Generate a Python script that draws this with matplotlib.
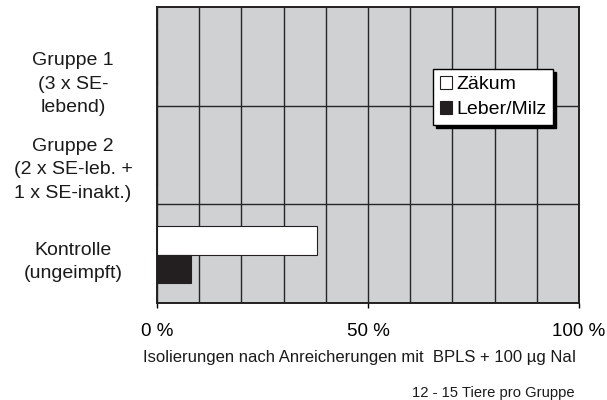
import numpy as np
import matplotlib
matplotlib.use("Agg")
import matplotlib.pyplot as plt
from matplotlib.patches import Patch

plt.rcParams['font.family'] = ['Liberation Sans', 'DejaVu Sans']

# ---- data ----
categories = ["Gruppe 1\n(3 x SE-\nlebend)",
              "Gruppe 2\n(2 x SE-leb. +\n1 x SE-inakt.)",
              "Kontrolle\n(ungeimpft)"]
series_names = ["Zäkum", "Leber/Milz"]
zaekum = [0, 0, 38]
leber_milz = [0, 0, 8]
xtick_values = [0, 50, 100]
xtick_labels = ["0 %", "50 %", "100 %"]
xlabel = "Isolierungen nach Anreicherungen mit  BPLS + 100 µg NaI"
footnote = "12 - 15 Tiere pro Gruppe"

# ---- layout / style ----
W, H, DPI = 607, 400, 100
bg = '#d0d1d3'
dark = '#231f20'
bar_h = 0.29
# baseline of the middle of each label block, px below category centre
label_mid_offset_px = [32.5, 19.5, 12.8]
line_pitch_px = 23.5

fig = plt.figure(figsize=(W / DPI, H / DPI), dpi=DPI)
ax = fig.add_axes([157 / W, 1 - 303 / H, (579 - 157) / W, (303 - 7) / H])
ax.set_facecolor(bg)
ax.set_axisbelow(True)

y = np.arange(len(categories)) + 0.5
pos = y + 0.01
ax.barh(pos - bar_h / 2, zaekum, height=bar_h, color='white',
        edgecolor=dark, linewidth=0.8, label=series_names[0], zorder=3)
ax.barh(pos + bar_h / 2, leber_milz, height=bar_h, color=dark,
        edgecolor=dark, linewidth=0.8, label=series_names[1], zorder=3)

ax.set_xlim(0, 100)
ax.set_ylim(len(categories), 0)

ax.set_xticks(xtick_values)
ax.set_xticklabels(xtick_labels, fontsize=13.5)
ax.set_xticks(np.arange(0, 101, 10), minor=True)
ax.tick_params(axis='x', which='major', direction='out', length=3.6,
               width=1, pad=10.5, colors='black')
ax.tick_params(axis='x', which='minor', length=0)
ax.set_yticks([])
ax.set_yticks(np.arange(1, len(categories)), minor=True)
ax.tick_params(axis='y', which='both', length=0, labelleft=False)
ax.grid(True, which='both', axis='both', color='#262626', linewidth=1.0)

for s in ax.spines.values():
    s.set_color(dark)
    s.set_linewidth(1.4)

# category labels
for lab, yc, off in zip(categories, y, label_mid_offset_px):
    lines = lab.split("\n")
    n = len(lines)
    for j, ln in enumerate(lines):
        dy_px = off + (j - (n - 1) / 2) * line_pitch_px
        ax.annotate(ln, xy=(-0.199, yc), xycoords=('axes fraction', 'data'),
                    xytext=(0, -dy_px * 72 / DPI), textcoords='offset points',
                    ha='center', va='baseline', fontsize=14, color='#1a1a1a',
                    annotation_clip=False)

ax.set_xlabel(xlabel, fontsize=12, color='#1a1a1a')
ax.xaxis.set_label_coords(0.481, -0.159)

handles = [Patch(facecolor='white', edgecolor=dark, linewidth=0.8),
           Patch(facecolor=dark, edgecolor=dark, linewidth=0.8)]
leg = ax.legend(handles, series_names, loc='upper left',
                bbox_to_anchor=(433 / W, 1 - 69 / H),
                bbox_transform=fig.transFigure, borderaxespad=0,
                fontsize=14, handlelength=0.62, handleheight=0.62,
                handletextpad=0.2, labelspacing=0.4, borderpad=0.36,
                fancybox=False, framealpha=1, edgecolor='black',
                shadow={'color': 'black', 'alpha': 1, 'ox': 2.2, 'oy': -2.2})
leg.get_frame().set_linewidth(1.0)
leg.set_zorder(5)

fig.text(575 / W, 1 - 397 / H, footnote, ha='right', va='baseline',
         fontsize=10.6, color='#1a1a1a')

fig.savefig("out.png", dpi=DPI, facecolor='white')
